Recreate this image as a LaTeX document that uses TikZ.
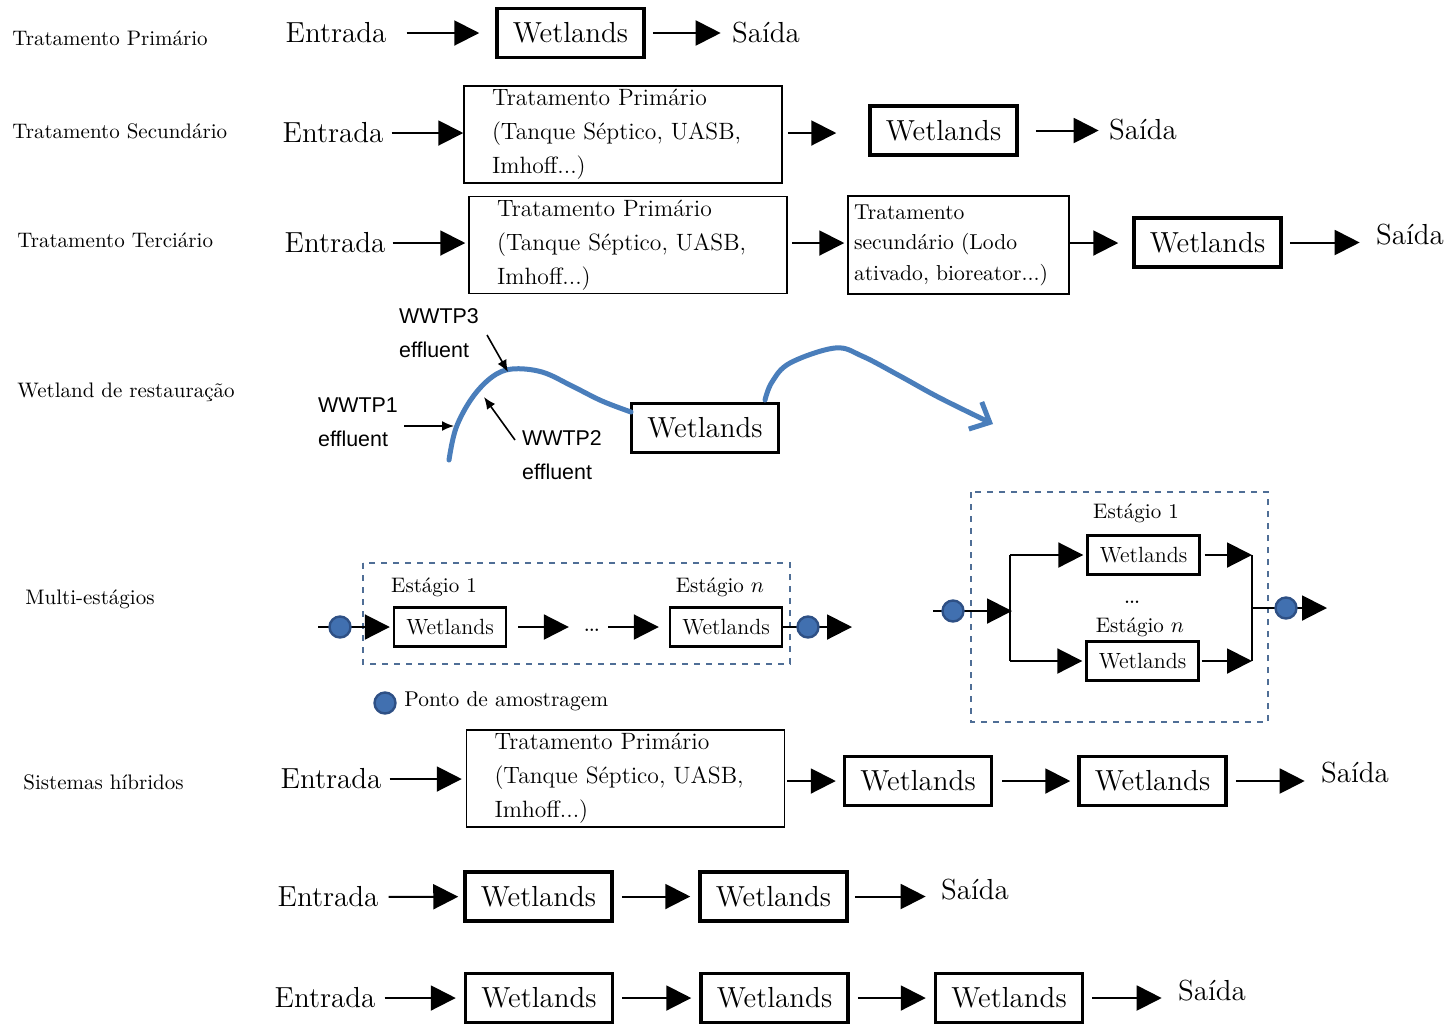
\documentclass[tikz,border=0pt]{standalone}
\usepackage{fontspec}
\usetikzlibrary{arrows.meta}
\newfontfamily\wwtpfont{Liberation Sans}
\definecolor{riverblue}{HTML}{4A7EBB}
\definecolor{stageframe}{HTML}{4F6E96}
\definecolor{sampleblue}{HTML}{4170B0}
\definecolor{sampleedge}{HTML}{2E5085}
\tikzset{
	rowlabel/.style={font=\fontsize{10.5}{12}\selectfont, inner sep=0pt, anchor=west},
	io/.style={font=\fontsize{14.5}{17}\selectfont, inner sep=0pt},
	wet/.style={draw, line width=1.75pt, font=\fontsize{14.5}{17}\selectfont, minimum width=73.5pt, minimum height=24.5pt, inner sep=0pt},
	treat/.style={draw, line width=0.75pt, font=\fontsize{11.8}{17}\selectfont, align=left, text width=131pt, inner xsep=14pt, inner ysep=0pt, minimum height=48.5pt},
	treatb/.style={draw, line width=0.75pt, font=\fontsize{10.8}{15.25}\selectfont, align=left, text width=104.5pt, inner xsep=3pt, inner ysep=0pt, minimum height=49pt},
	stagebox/.style={draw, line width=1.2pt, font=\fontsize{11}{13}\selectfont, minimum width=56pt, minimum height=19.5pt, inner sep=0pt},
	stagelabel/.style={font=\fontsize{10.5}{12}\selectfont, inner sep=0pt},
	stagedots/.style={font=\fontsize{15}{17}\selectfont, inner sep=0pt},
	sample/.style={circle, fill=sampleblue, draw=sampleedge, line width=1.2pt, minimum width=9.5pt, minimum height=10.5pt, inner sep=0pt},
	arr/.style={-{Triangle[length=12.5pt,width=12.5pt]}, line width=1pt},
	thinarr/.style={-{Latex[length=6pt,width=5pt]}, line width=0.8pt},
	wwtp/.style={font=\wwtpfont\fontsize{10.7}{17}\selectfont, align=left, inner sep=0pt},
	river/.style={riverblue, line width=2.5pt, line cap=round, line join=round},
	frame/.style={stageframe, dashed, line width=0.8pt}
}
\begin{document}
\begin{tikzpicture}[x=0.5pt, y=-0.5pt]
	\useasboundingbox (0,0) rectangle (1449,1024);

	% row labels
	\node[rowlabel] (lab1) at (12,38) {Tratamento Primário};
	\node[rowlabel] (lab2) at (12,131) {Tratamento Secundário};
	\node[rowlabel] (lab3) at (17,240) {Tratamento Terciário};
	\node[rowlabel] (lab4) at (17,392) {Wetland de restauração};
	\node[rowlabel] (lab5) at (25,599) {Multi-estágios};
	\node[rowlabel] (lab6) at (23,782) {Sistemas híbridos};

	% primario
	\node[io] (e1) at (336,33) {Entrada};
	\node[wet] (w1) at (570.5,33) {Wetlands};
	\node[io] (o1) at (766,33) {Saída};
	\draw[arr, shorten <=10pt, shorten >=8pt] (e1) -- (w1);
	\draw[arr, shorten <=3.5pt, shorten >=5.5pt] (w1) -- (o1);

	% secundario
	\node[io] (e2) at (333,133) {Entrada};
	\node[treat] (t2) at (623,134.5) {Tratamento Primário\\(Tanque Séptico, UASB,\\Imhoff...)};
	\node[wet] (w2) at (943.5,130.5) {Wetlands};
	\node[io] (o2) at (1143,130) {Saída};
	\draw[arr, shorten <=4pt] (e2) -- (e2 -| t2.west);
	\draw[arr, shorten <=2.5pt, shorten >=16pt] (t2.east |- e2) -- (e2 -| w2.west);
	\draw[arr, shorten <=8.5pt, shorten >=5pt] (w2) -- (w2 -| o2.west);

	% terciario
	\node[io] (e3) at (335,243) {Entrada};
	\node[treat] (t3) at (628,245) {Tratamento Primário\\(Tanque Séptico, UASB,\\Imhoff...)};
	\node[treatb] (t3b) at (958.5,245) {Tratamento\\secundário (Lodo\\ativado, bioreator...)};
	\node[wet] (w3) at (1207.5,242.5) {Wetlands};
	\node[io] (o3) at (1410,235) {Saída};
	\draw[arr, shorten <=3.5pt, shorten >=1.5pt] (e3) -- (e3 -| t3.west);
	\draw[arr, shorten <=2pt, shorten >=1.5pt] (t3.east |- e3) -- (e3 -| t3b.west);
	\draw[arr, shorten >=7pt] (t3b.east |- e3) -- (e3 -| w3.west);
	\draw[arr, shorten <=3.5pt, shorten >=8pt] (w3) -- (w3 -| o3.west);

	% restauracao
	\node[wet] (wr) at (705,428) {Wetlands};
	\draw[river] plot[smooth, tension=0.6] coordinates {(449,460) (456,428) (472,398) (492,377) (512,369) (542,372) (572,386) (602,401) (631,412)};
	\draw[river, -{Straight Barb[length=8pt,width=15pt]}] plot[smooth, tension=0.6] coordinates {(765,400) (772,382) (790,363) (835,348) (862,356) (900,376) (940,398) (993,424)};
	\node[wwtp] (wwtp3) at (439,333) {WWTP3\\effluent};
	\node[wwtp] (wwtp1) at (358,422) {WWTP1\\effluent};
	\node[wwtp] (wwtp2) at (562,455) {WWTP2\\effluent};
	\coordinate (p3) at (508,372);
	\coordinate (p1) at (454,426);
	\coordinate (p2) at (484,397);
	\coordinate (q3) at (487,335);
	\coordinate (q1) at (404,426);
	\coordinate (q2) at (515,440);
	\draw[thinarr] (q3) -- (p3);
	\draw[thinarr] (q1) -- (p1);
	\draw[thinarr] (q2) -- (p2);

	% multi-estagios em serie
	\draw[frame] (363,563) rectangle (790,664);
	\node[stagelabel] (st1) at (434,587) {Estágio 1};
	\node[stagelabel] (stn) at (720,587) {Estágio $n$};
	\node[stagebox] (mw1) at (450,627) {Wetlands};
	\node[stagebox] (mwn) at (726,627) {Wetlands};
	\node[stagedots] (dots1) at (592,630) {\dots};
	\coordinate (in1) at (318,627);
	\coordinate (out1) at (852,627);
	\draw[arr, shorten >=1.5pt] (in1) -- (mw1);
	\draw[arr, shorten <=5.5pt, shorten >=7pt] (mw1) -- (mw1 -| dots1.west);
	\draw[arr, shorten <=3.5pt, shorten >=5pt] (mw1 -| dots1.east) -- (mwn);
	\draw[arr] (mwn) -- (out1);
	\node[sample] (sp1) at (340,627) {};
	\node[sample] (sp2) at (808,627) {};

	% legenda
	\node[sample] (spl) at (385,703) {};
	\node[stagelabel, anchor=west, font=\fontsize{10.7}{12}\selectfont] (leg) at (404,701) {Ponto de amostragem};

	% multi-estagios em paralelo
	\draw[frame] (971,492) rectangle (1268,722);
	\node[stagelabel] (pst1) at (1136,513) {Estágio 1};
	\node[stagedots] (pdots) at (1132,602) {\dots};
	\node[stagelabel] (pstn) at (1140,627) {Estágio $n$};
	\node[stagebox] (pw1) at (1143.5,555) {Wetlands};
	\node[stagebox] (pwn) at (1142.5,661) {Wetlands};
	\coordinate (in2) at (933,611);
	\coordinate (stop) at (1010,555);
	\coordinate (smid) at (1010,611);
	\coordinate (sbot) at (1010,661);
	\coordinate (jtop) at (1252,555);
	\coordinate (jmid) at (1252,608);
	\coordinate (jbot) at (1252,661);
	\coordinate (out2) at (1327,608);
	\draw[arr, shorten >=-1pt] (in2) -- (smid);
	\draw[line width=1pt] (stop) -- (sbot);
	\draw[arr, shorten >=1.5pt] (stop) -- (pw1);
	\draw[arr, shorten >=1.5pt] (sbot) -- (pwn);
	\draw[arr, shorten <=2pt] (pw1) -- (jtop);
	\draw[arr, shorten <=1pt] (pwn) -- (jbot);
	\draw[line width=1pt] (jtop) -- (jbot);
	\draw[arr] (jmid) -- (out2);
	\node[sample] (sp3) at (953,611) {};
	\node[sample] (sp4) at (1286,608) {};

	% hibridos
	\node[io] (e6) at (331,779) {Entrada};
	\node[treat] (t6) at (625.5,778.5) {Tratamento Primário\\(Tanque Séptico, UASB,\\Imhoff...)};
	\node[wet] (w6a) at (918,781) {Wetlands};
	\node[wet] (w6b) at (1152.5,781) {Wetlands};
	\node[io] (o6) at (1355,773) {Saída};
	\draw[arr, shorten <=4pt, shorten >=2pt] (e6) -- (e6 -| t6.west);
	\draw[arr, shorten <=1pt, shorten >=3.5pt] (t6.east |- w6a) -- (w6a);
	\draw[arr, shorten <=4.5pt, shorten >=3.5pt] (w6a) -- (w6b);
	\draw[arr, shorten <=4pt, shorten >=8pt] (w6b) -- (w6b -| o6.west);

	\node[io] (e7) at (328,897) {Entrada};
	\node[wet] (w7a) at (538.5,896.5) {Wetlands};
	\node[wet] (w7b) at (773.5,896.5) {Wetlands};
	\node[io] (o7) at (975,890) {Saída};
	\draw[arr, shorten <=5pt, shorten >=2.5pt] (e7) -- (w7a);
	\draw[arr, shorten <=4pt, shorten >=4pt] (w7a) -- (w7b);
	\draw[arr, shorten <=3pt, shorten >=7.5pt] (w7b) -- (w7b -| o7.west);

	\node[io] (e8) at (325,998) {Entrada};
	\node[wet] (w8a) at (539,998) {Wetlands};
	\node[wet] (w8b) at (774.5,998) {Wetlands};
	\node[wet] (w8c) at (1009,998) {Wetlands};
	\node[io] (o8) at (1212,991) {Saída};
	\draw[arr, shorten <=4.5pt, shorten >=4pt] (e8) -- (w8a);
	\draw[arr, shorten <=4pt, shorten >=4pt] (w8a) -- (w8b);
	\draw[arr, shorten <=4pt, shorten >=4pt] (w8b) -- (w8c);
	\draw[arr, shorten <=4pt, shorten >=8pt] (w8c) -- (w8c -| o8.west);
\end{tikzpicture}
\end{document}
